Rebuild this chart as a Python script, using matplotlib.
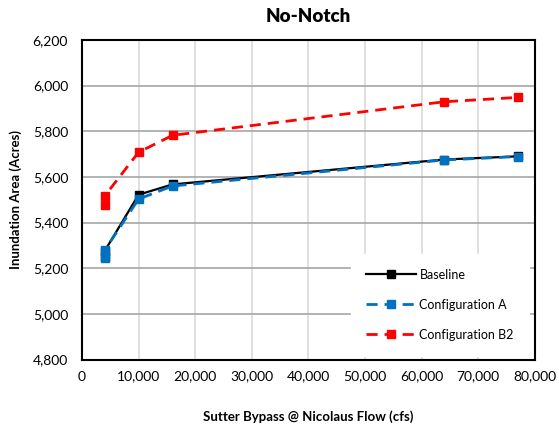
import matplotlib.pyplot as plt
from matplotlib.ticker import FuncFormatter, MultipleLocator

plt.rcParams['font.family'] = ['Lato', 'DejaVu Sans']

# flow (cfs)
flow = [4000, 4000, 10000, 16000, 64000, 77000]
# inundation area (acres)
baseline = [5250, 5275, 5522, 5567, 5676, 5690]
config_a = [5245, 5278, 5503, 5560, 5674, 5689]
config_b2 = [5475, 5516, 5708, 5782, 5929, 5948]

fig = plt.figure(figsize=(5.59, 4.29), dpi=100)
ax = fig.add_axes([0.1467, 0.162, 0.81, 0.745])

ax.plot(flow, baseline, color='black', lw=1.6, marker='s', ms=5.5, label='Baseline', zorder=3)
ax.plot(flow, config_a, color='#0070C0', lw=2.0, ls=(0, (4, 2.5)), marker='s', ms=6,
        label='Configuration A', zorder=4)
ax.plot(flow, config_b2, color='#FF0000', lw=2.0, ls=(0, (4, 2.5)), marker='s', ms=6,
        label='Configuration B2', zorder=4)

ax.set_xlim(0, 80000)
ax.set_ylim(4800, 6200)
ax.xaxis.set_major_locator(MultipleLocator(10000))
ax.yaxis.set_major_locator(MultipleLocator(200))
fmt = FuncFormatter(lambda v, p: f'{int(v):,}')
ax.xaxis.set_major_formatter(fmt)
ax.yaxis.set_major_formatter(fmt)
ax.tick_params(length=0, labelsize=10, pad=8)
ax.tick_params(axis='y', pad=10)

ax.xaxis.grid(True, color='#d9d9d9', lw=1.2)
ax.yaxis.grid(True, color='#a6a6a6', lw=1.2)
ax.set_axisbelow(True)
for s in ax.spines.values():
    s.set_color('black')
    s.set_linewidth(1.5)

ax.set_title('No-Notch', fontsize=13.5, fontweight='heavy', pad=13)
ax.set_xlabel('Sutter Bypass @ Nicolaus Flow (cfs)', fontsize=9.5, fontweight='bold', labelpad=20)
ax.set_ylabel('Inundation Area (Acres)', fontsize=9.5, fontweight='bold', labelpad=8)

leg = ax.legend(loc='lower right', bbox_to_anchor=(0.995, 0.0), fontsize=9, frameon=True,
                fancybox=False, edgecolor='white', framealpha=1, handlelength=4.0,
                labelspacing=1.45, borderpad=1.2, handletextpad=0.3, borderaxespad=0.3)

fig.savefig('out.png', dpi=100)
